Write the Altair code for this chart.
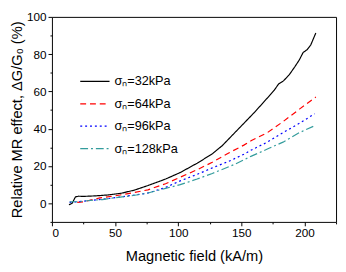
import altair as alt
import pandas as pd

x_32 = [13.5, 16, 18.6, 21, 25, 35, 45, 55, 65, 76, 90, 101.6, 115, 127, 135, 140, 145, 150, 155, 160, 168, 176, 179.5, 183.4, 188, 192.3, 196, 199, 202, 205, 209]
y_32 = [-0.8, 0, 3.4, 3.8, 3.7, 4, 4.5, 5.4, 7, 9.5, 13, 16.5, 21.5, 26.5, 31, 34.5, 38, 41.5, 45, 48.5, 54.5, 60.6, 64, 65.7, 69, 73.2, 77, 81, 82.3, 85, 91.4]

x_64 = [20, 25, 38, 50, 63, 76, 90, 101.6, 115, 127, 140, 152, 158, 170.6, 183, 196, 209]
y_64 = [0.5, 0.8, 2.9, 4, 5.5, 7.2, 10.5, 14, 18, 22, 27, 31.2, 33.7, 37.9, 43.8, 50.5, 57]

x_96 = [14, 20, 30, 40, 50, 63, 76, 90, 101.6, 115, 127, 140, 152.7, 158, 170.6, 183, 196, 208]
y_96 = [0.5, 0.8, 1.5, 2.2, 3, 4.2, 5.5, 8.5, 12, 15.5, 19, 22.5, 26.5, 28.6, 32.8, 37.9, 42.9, 48]

x_128 = [14, 20, 30, 40, 50, 63, 76, 90, 101.6, 115, 127, 145, 158, 170.6, 183, 196, 208]
y_128 = [0.8, 0.8, 1.5, 2, 3, 4, 5.5, 8, 10, 13, 16, 21, 25.3, 29.1, 32.8, 37.9, 41.6]

series = ["σₙ=32kPa", "σₙ=64kPa", "σₙ=96kPa", "σₙ=128kPa"]
colors = ["#000000", "#ff0000", "#0000ff", "#339c9c"]
dashes = [[1, 0], [6, 4], [2, 3], [8, 3, 2, 3]]

rows = []
for xs_, ys_, name in zip([x_32, x_64, x_96, x_128], [y_32, y_64, y_96, y_128], series):
    for xv, yv in zip(xs_, ys_):
        rows.append({"x": xv, "y": yv, "s": name})
df = pd.DataFrame(rows)

x_major = [0, 50, 100, 150, 200]
x_minor = [25, 75, 125, 175, 225]
y_major = [0, 20, 40, 60, 80, 100]
y_minor = [-10, 10, 30, 50, 70, 90]

xscale = alt.Scale(domain=[0, 225], nice=False)
yscale = alt.Scale(domain=[-10, 100], nice=False)

font = "Liberation Sans"

lines = alt.Chart(df).mark_line(strokeWidth=1.2).encode(
    x=alt.X("x:Q", scale=xscale, axis=alt.Axis(values=x_major, title="Magnetic field (kA/m)",
                                                tickSize=4, labelFontSize=12, titleFontSize=15,
                                                titleFontWeight="normal", labelPadding=2, titlePadding=11,
                                                grid=False, domain=False, tickColor="black",
                                                labelColor="black", titleColor="black",
                                                labelFont=font, titleFont=font)),
    y=alt.Y("y:Q", scale=yscale, axis=alt.Axis(values=y_major, title="Relative MR effect, ΔG/G₀ (%)",
                                                tickSize=4, labelFontSize=12, titleFontSize=15,
                                                titleFontWeight="normal", labelPadding=2, titlePadding=2,
                                                grid=False, domain=False, tickColor="black",
                                                labelColor="black", titleColor="black",
                                                labelFont=font, titleFont=font)),
    color=alt.Color("s:N", scale=alt.Scale(domain=series, range=colors),
                    legend=alt.Legend(orient="none", legendX=28, legendY=50, title=None,
                                      symbolType="stroke", symbolSize=900, symbolStrokeWidth=1.3,
                                      labelFontSize=13, labelFont=font, labelColor="black",
                                      rowPadding=-1, labelOffset=4)),
    strokeDash=alt.StrokeDash("s:N", scale=alt.Scale(domain=series, range=dashes), legend=None),
    detail="s:N",
)

minor = alt.Chart(df).mark_point(opacity=0).encode(
    x=alt.X("x:Q", scale=xscale, axis=alt.Axis(values=x_minor, orient="bottom", labels=False, title=None,
                                                tickSize=2, grid=False, domain=False, tickColor="black")),
    y=alt.Y("y:Q", scale=yscale, axis=alt.Axis(values=y_minor, orient="left", labels=False, title=None,
                                                tickSize=2, grid=False, domain=False, tickColor="black")),
)

chart = alt.layer(lines, minor).resolve_axis(x="independent", y="independent").properties(
    width=291, height=210,
    autosize=alt.AutoSizeParams(type="none"),
    padding={"left": 45, "top": 6, "right": 2, "bottom": 40},
).configure_view(stroke="black", strokeWidth=1)

chart.save("out.html", embed_options={"renderer": "svg", "actions": False})
